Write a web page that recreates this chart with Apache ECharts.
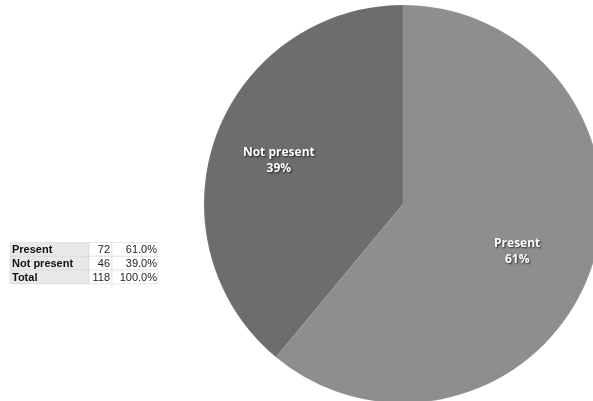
<!DOCTYPE html>
<html><head><meta charset="utf-8">
<script src="https://cdn.jsdelivr.net/npm/echarts@6/dist/echarts.min.js"></script>
<style>html,body{margin:0;padding:0;background:#fff}#c{width:593px;height:401px}</style>
</head><body><div id="c"></div>
<script>
const categories = ['Present', 'Not present'];
const counts = [72, 46];
const tableRows = ['Present', 'Not present', 'Total'];
const tableCounts = ['72', '46', '118'];
const tablePercents = ['61.0%', '39.0%', '100.0%'];
const colors = ['#8e8e8e', '#6d6d6d'];

const chart = echarts.init(document.getElementById('c'));
const data = categories.map((c, i) => ({ name: c, value: counts[i], itemStyle: { color: colors[i] } }));

// table graphic
const tx = 10, ty = 242.5, rh = 13.8, w1 = 79, w2 = 23, w3 = 46;
const g = [];
tableRows.forEach((r, i) => {
  const y = ty + i * rh;
  g.push({ type: 'rect', shape: { x: tx, y: y, width: w1, height: rh }, style: { fill: '#e8e8e8', stroke: '#d6d6d6', lineWidth: 0.6 } });
  g.push({ type: 'rect', shape: { x: tx + w1, y: y, width: w2, height: rh }, style: { fill: '#fff', stroke: '#d6d6d6', lineWidth: 0.6 } });
  g.push({ type: 'rect', shape: { x: tx + w1 + w2, y: y, width: w3, height: rh }, style: { fill: '#fff', stroke: '#d6d6d6', lineWidth: 0.6 } });
  g.push({ type: 'text', x: tx + 2, y: y + rh / 2 + 0.5, style: { text: r, fill: '#111', font: 'bold 11px "Liberation Sans", Arial', verticalAlign: 'middle', align: 'left' } });
  g.push({ type: 'text', x: tx + w1 + w2 - 2, y: y + rh / 2 + 0.5, style: { text: tableCounts[i], fill: '#222', font: '11px "Liberation Sans", Arial', verticalAlign: 'middle', align: 'right' } });
  g.push({ type: 'text', x: tx + w1 + w2 + w3 - 1, y: y + rh / 2 + 0.5, style: { text: tablePercents[i], fill: '#222', font: '11px "Liberation Sans", Arial', verticalAlign: 'middle', align: 'right' } });
});

const labelOffsets = [[-10, 3], [0, 1]];

chart.setOption({
  animation: false,
  graphic: g,
  series: [
    {
      type: 'pie', center: [403, 204], radius: [0, 199], startAngle: 90, clockwise: true,
      data: data, label: { show: false }, labelLine: { show: false },
      itemStyle: { borderColor: 'rgba(255,255,255,0.15)', borderWidth: 0.5 },
      emphasis: { disabled: true }
    },
    {
      type: 'pie', center: [403, 204], radius: [0, 258], startAngle: 90, clockwise: true, silent: true,
      data: categories.map((c, i) => ({ name: c, value: counts[i], label: { offset: labelOffsets[i] } })),
      itemStyle: { color: 'rgba(0,0,0,0)' },
      label: {
        show: true, position: 'inside',
        formatter: p => p.name + '\n' + Math.round(p.percent) + '%',
        color: '#fff', fontWeight: 'bold', fontSize: 12, lineHeight: 16,
        fontFamily: '"Open Sans", "Liberation Sans", sans-serif',
        textShadowColor: 'rgba(0,0,0,0.7)', textShadowBlur: 2, textShadowOffsetX: 1, textShadowOffsetY: 1
      },
      labelLine: { show: false },
      emphasis: { disabled: true }
    }
  ]
});
</script></body></html>
